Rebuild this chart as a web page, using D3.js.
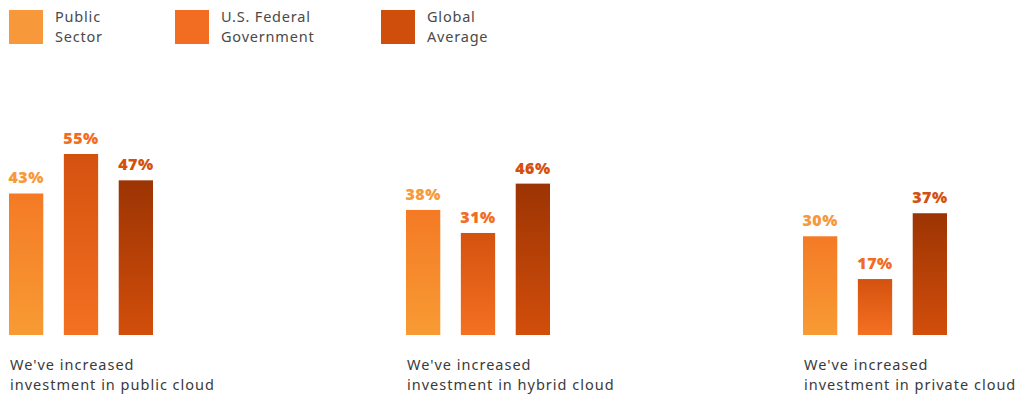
<!DOCTYPE html>
<html>
<head>
<meta charset="utf-8">
<script src="https://cdn.jsdelivr.net/npm/d3@7/dist/d3.min.js"></script>
<style>
  html, body { margin: 0; padding: 0; background: #fff; }
  svg { display: block; }
  text { font-family: "Noto Sans", "Open Sans", sans-serif; }
</style>
</head>
<body>
<svg id="chart" width="1021" height="394"></svg>
<script>
// Survey results: share of respondents reporting increased cloud investment
const groups = ["public", "hybrid", "private"];
const groupLabels = [
  ["We've increased", "investment in public cloud"],
  ["We've increased", "investment in hybrid cloud"],
  ["We've increased", "investment in private cloud"]
];
const series = ["Public Sector", "U.S. Federal Government", "Global Average"];
const legendLabels = [["Public", "Sector"], ["U.S. Federal", "Government"], ["Global", "Average"]];
const publicSector = [43, 38, 30];
const usFederal = [55, 31, 17];
const globalAverage = [47, 46, 37];

// Colour styling per series
const legendColors = ["#f7993a", "#f26d21", "#d04e0c"];
const labelColors = ["#f7993a", "#f26b22", "#d4500f"];
const gradTop = ["#f47a25", "#d4520f", "#9c3403"];
const gradBottom = ["#f89b34", "#f47022", "#d24e0b"];

const values = [publicSector, usFederal, globalAverage];
const svg = d3.select("#chart");

const defs = svg.append("defs");
series.forEach((s, i) => {
  const g = defs.append("linearGradient")
    .attr("id", "grad" + i)
    .attr("x1", 0).attr("y1", 0).attr("x2", 0).attr("y2", 1);
  g.append("stop").attr("offset", "0%").attr("stop-color", gradTop[i]);
  g.append("stop").attr("offset", "100%").attr("stop-color", gradBottom[i]);
});

const baseline = 335;
const y = d3.scaleLinear().domain([0, 55]).range([baseline, 154]);
const x0 = d3.scalePoint().domain(groups).range([9, 803]);
const x1 = d3.scaleBand().domain(series).range([0, 144]).paddingInner(0.375).paddingOuter(0);

// Legend
const legend = svg.append("g");
const legendX = [9, 175, 381];
series.forEach((s, i) => {
  const lg = legend.append("g").attr("transform", `translate(${legendX[i]},10)`);
  lg.append("rect").attr("width", 34).attr("height", 34).attr("fill", legendColors[i]);
  lg.selectAll("text").data(legendLabels[i]).join("text")
    .attr("x", 46)
    .attr("y", (d, j) => 12 + j * 19.5)
    .attr("font-size", 14.5)
    .attr("letter-spacing", 0.8)
    .attr("fill", "#4a4a4a")
    .text(d => d);
});

// Bars and value labels
const rows = [];
groups.forEach((g, gi) => {
  series.forEach((s, si) => rows.push({ g, s, si, v: values[si][gi] }));
});

const plot = svg.append("g");
plot.selectAll("rect.bar").data(rows).join("rect")
  .attr("class", "bar")
  .attr("x", d => x0(d.g) + x1(d.s))
  .attr("y", d => y(d.v))
  .attr("width", x1.bandwidth())
  .attr("height", d => baseline - y(d.v))
  .attr("fill", d => `url(#grad${d.si})`);

plot.selectAll("text.val").data(rows).join("text")
  .attr("class", "val")
  .attr("x", d => x0(d.g) + x1(d.s) + x1.bandwidth() / 2)
  .attr("y", d => y(d.v) - 10)
  .attr("text-anchor", "middle")
  .attr("font-size", 16)
  .attr("font-weight", 900)
  .attr("letter-spacing", 0.5)
  .attr("fill", d => labelColors[d.si])
  .text(d => d.v + "%");

// Category captions
groups.forEach((g, gi) => {
  svg.append("g").selectAll("text").data(groupLabels[gi]).join("text")
    .attr("x", x0(g) + 1)
    .attr("y", (d, j) => 370 + j * 20)
    .attr("font-size", 14.5)
    .attr("letter-spacing", 1)
    .attr("fill", "#3a3a3a")
    .text(d => d);
});
</script>
</body>
</html>
